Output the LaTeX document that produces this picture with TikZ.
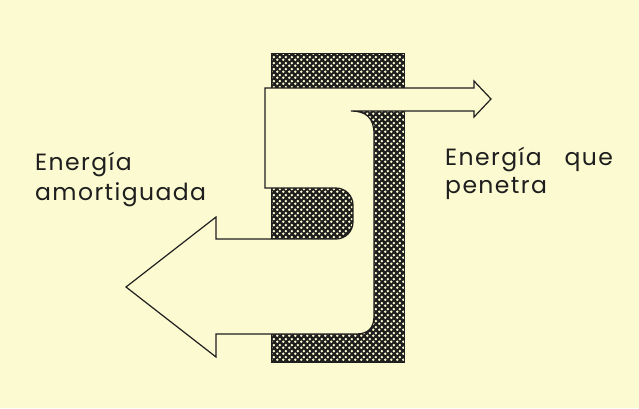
\documentclass[tikz,border=0pt]{standalone}
\usepackage{fontspec}
\setmainfont{Poppins}[LetterSpace=6]
\usetikzlibrary{patterns.meta}
\definecolor{bg}{RGB}{252,250,208}
\definecolor{ink}{RGB}{30,30,30}
\pgfdeclarepattern{
  name=wallpat, type=uncolored,
  bottom left={\pgfpoint{0pt}{0pt}},
  top right={\pgfpoint{6pt}{6pt}},
  tile size={\pgfpoint{6pt}{6pt}},
  code={
    \pgfpathcircle{\pgfpoint{1.5pt}{1.5pt}}{1.55pt}
    \pgfpathcircle{\pgfpoint{4.5pt}{4.5pt}}{1.55pt}
    \pgfusepath{fill}
  }
}
\tikzset{
  wall/.style={fill=ink},
  wallhatch/.style={pattern=wallpat, pattern color=bg},
  flow/.style={fill=bg, draw=ink, line width=1.2pt, line join=miter},
  lbl/.style={anchor=base west, inner sep=0pt, text=ink, font=\fontsize{23.5}{23.5}\selectfont}
}
\begin{document}
\begin{tikzpicture}[x=1pt, y=-1pt]
\fill[bg] (0,0) rectangle (639,408);
\useasboundingbox (0,0) rectangle (639,408);
% wall
\fill[wall] (271,53) rectangle (404,362);
\fill[wallhatch] (271,53) rectangle (404,362);
\draw[ink, line width=1pt] (271,53) rectangle (404,362);
% energy flow
\filldraw[flow]
  (265,88) -- (474,88) -- (474,81) -- (491,99) -- (474,117) -- (474,111)
  -- (351,111) .. controls (366,111) and (374,118) .. (374,134)
  -- (374,316) .. controls (374,328) and (368,334) .. (356,334)
  -- (216,334) -- (216,357) -- (126,287) -- (216,217) -- (216,239)
  -- (336,239) .. controls (345.4,239) and (353,231.4) .. (353,222)
  -- (353,205) .. controls (353,195.6) and (345.4,188) .. (336,188)
  -- (265,188) -- cycle;
% labels
\node[lbl] (a1) at (35,170) {Energía};
\node[lbl] (a2) at (35,200) {amortiguada};
\node[lbl] (p1) at (445,165) {Energía\hspace{23pt}que};
\node[lbl] (p2) at (445,193) {penetra};
\end{tikzpicture}
\end{document}
